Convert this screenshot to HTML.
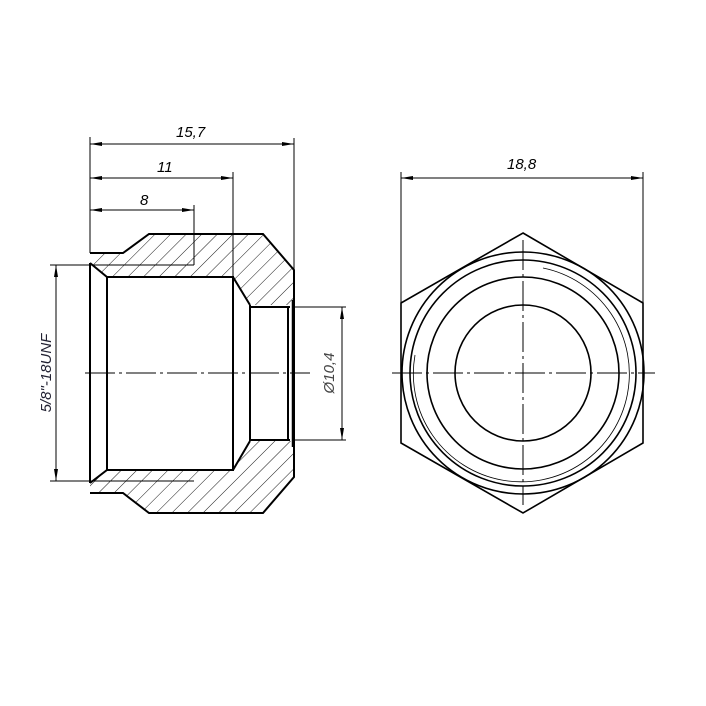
<!DOCTYPE html>
<html><head><style>body{margin:0;background:#fff}svg{display:block}text{font-family:"Liberation Sans",sans-serif;font-style:italic;font-size:15px}</style></head><body>
<svg width="706" height="706" viewBox="0 0 706 706" xmlns="http://www.w3.org/2000/svg">
<defs>
<pattern id="h" patternUnits="userSpaceOnUse" width="11" height="11" patternTransform="rotate(45)"><line x1="0" y1="0" x2="0" y2="11" stroke="#000" stroke-width="0.9"/></pattern>
<marker id="a" viewBox="0 0 12 4" refX="12" refY="2" markerWidth="12" markerHeight="4" orient="auto-start-reverse" markerUnits="userSpaceOnUse"><path d="M0,0L12,2L0,4z" fill="#000"/></marker>
</defs>
<rect width="706" height="706" fill="#fff"/>
<!-- section hatch -->
<path fill-rule="evenodd" fill="url(#h)" d="M90,253L123,253L149,234L263,234L294,270L294,477L263,513L149,513L123,493L90,493Z M90,263L107,277L233,277L250,305L294,305L294,441L250,441L233,470L107,470L90,483Z"/>
<g fill="none" stroke="#000" stroke-width="2">
<path d="M90,253L123,253L149,234L263,234L294,270L294,477L263,513L149,513L123,493L90,493"/>
<path d="M90,263L90,483"/>
<path d="M90,263L107,277L233,277L250,305 M90,483L107,470L233,470L250,441"/>
<rect x="107" y="277" width="126" height="193"/>
<path d="M250,305L250,441 M250,307L290,307 M250,440L290,440 M288,307L288,440"/>
<path d="M293,300L293,447" stroke-width="2.5"/>
</g>
<g stroke="#000" stroke-width="1" fill="none">
<path d="M90,265L194,265 M90,481L194,481"/>
<path d="M90,137L90,253 M194,205L194,265 M233,172L233,277 M294,138L294,270"/>
<path d="M90,144L294,144" marker-start="url(#a)" marker-end="url(#a)"/>
<path d="M90,178L233,178" marker-start="url(#a)" marker-end="url(#a)"/>
<path d="M90,210L194,210" marker-start="url(#a)" marker-end="url(#a)"/>
<path d="M50,265L90,265 M50,481L90,481"/>
<path d="M56,265L56,481" marker-start="url(#a)" marker-end="url(#a)"/>
<path d="M293,307L346,307 M293,440L346,440"/>
<path d="M342,307L342,440" marker-start="url(#a)" marker-end="url(#a)"/>
<path d="M85,373L310,373" stroke-dasharray="30,4,3,4"/>
</g>
<text x="176" y="137">15,7</text>
<text x="157" y="172">11</text>
<text x="140" y="205">8</text>
<text transform="translate(51,373) rotate(-90)" text-anchor="middle" fill="#223">5/8"-18UNF</text>
<text transform="translate(334,373) rotate(-90)" text-anchor="middle" fill="#444">Ø10,4</text>
<!-- right view -->
<g fill="none" stroke="#000" stroke-width="1.6">
<path d="M523,233L643,303L643,443L523,513L401,443L401,303Z"/>
<circle cx="523" cy="373" r="121"/>
<circle cx="523" cy="373" r="113"/>
<circle cx="523" cy="373" r="96"/>
<circle cx="523" cy="373" r="68"/>
</g>
<path d="M543,268A108,108 0 1 1 415,355" fill="none" stroke="#000" stroke-width="0.8"/>
<g stroke="#000" stroke-width="1" fill="none">
<path d="M392,373L655,373 M523,240L523,505" stroke-dasharray="30,4,3,4"/>
<path d="M401,172L401,303 M643,172L643,303"/>
<path d="M401,178L643,178" marker-start="url(#a)" marker-end="url(#a)"/>
</g>
<text x="507" y="169">18,8</text>
</svg>
</body></html>
